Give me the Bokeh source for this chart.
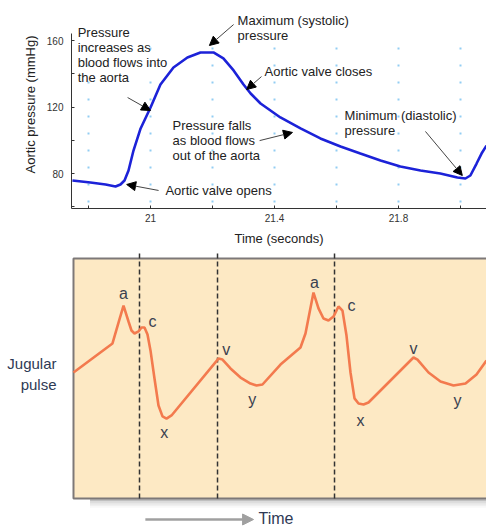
from bokeh.plotting import figure
from bokeh.layouts import column
from bokeh.models import (Range1d, FixedTicker, Label, Arrow, NormalHead)
from bokeh.core.properties import value
from bokeh.embed import file_html
from bokeh.resources import INLINE

# ---------------- data: aortic pressure ----------------
aortic_time = [20.748, 20.806, 20.855, 20.887, 20.903, 20.916, 20.929, 20.945, 20.968, 21.000,
               21.032, 21.074, 21.119, 21.161, 21.203, 21.235, 21.268, 21.300, 21.323, 21.355,
               21.419, 21.484, 21.548, 21.613, 21.677, 21.742, 21.806, 21.871, 21.935, 21.990,
               22.016, 22.032, 22.052, 22.068, 22.084]
aortic_pressure = [75.8, 74.6, 73.4, 72.2, 73.4, 75.8, 81.8, 93.8, 107.1, 119.7,
                   133.5, 143.8, 149.8, 152.8, 152.8, 149.2, 142.0, 133.5, 128.1, 122.1,
                   113.7, 107.1, 101.1, 96.2, 92.0, 87.8, 84.2, 81.8, 80.0, 77.6,
                   77.0, 78.8, 86.0, 92.0, 96.8]
x_tick_values = [21, 21.4, 21.8]
x_tick_labels = ["21", "21.4", "21.8"]
x_minor_ticks = [20.8, 21.2, 21.6, 22.0]
y_tick_values = [80, 120, 160]
y_minor_ticks = [60, 100, 140]
x_grid_values = [20.8, 21.0, 21.2, 21.4, 21.6, 21.8, 22.0]

# ---------------- data: jugular pulse (arbitrary units) ----------------
jug_time = [0.00, 9.44, 10.90, 12.11, 13.32, 14.04, 14.77, 15.74, 16.46, 17.19, 17.92, 18.64,
            19.61, 20.58, 21.55, 22.52, 23.73, 35.11, 36.08, 38.01, 40.44, 42.86, 44.31, 45.76,
            50.12, 54.96, 56.17, 58.11, 59.32, 60.53, 61.74, 62.95, 64.16, 65.13, 66.10, 67.07,
            68.04, 69.01, 70.22, 71.43, 82.32, 83.29, 85.96, 88.86, 92.01, 94.92, 97.58, 100.0]
jug_amp = [52.5, 64.6, 73.3, 80.4, 73.75, 70.0, 68.75, 69.6, 71.25, 71.25, 68.3, 61.7,
           50.0, 38.75, 34.2, 33.3, 34.6, 58.3, 57.9, 54.2, 50.4, 47.9, 47.1, 47.5,
           55.8, 62.9, 68.75, 85.8, 79.2, 75.0, 74.2, 75.8, 80.0, 78.3, 67.9, 52.5,
           41.7, 39.6, 39.2, 40.0, 58.75, 57.9, 52.5, 48.75, 47.1, 47.9, 51.7, 57.5]
wave_names = ["a", "c", "x", "v", "y", "a", "c", "x", "v", "y"]
wave_time = [12.1, 19.1, 22.0, 37.0, 43.3, 58.35, 67.3, 69.5, 82.3, 93.0]
wave_amp = [85.4, 73.75, 27.5, 62.1, 41.25, 90.0, 80.4, 32.5, 62.5, 40.8]
dashed_times = [15.98, 34.87, 63.2]
jug_label_values = [56.25, 47.5]
jug_label_texts = ["Jugular", "pulse"]

FONT = "Liberation Sans"
Y_TOP_AXIS = 164.2   # top end of the aortic y axis

# ================= top figure =================
p1 = figure(width=486, height=248, x_range=Range1d(20.745, 22.084), y_range=Range1d(58.95, 184.06),
            output_backend="svg", toolbar_location=None,
            min_border_left=71, min_border_right=0, min_border_top=0, min_border_bottom=40)
p1.outline_line_color = None
p1.background_fill_color = "white"
p1.border_fill_color = "white"

p1.xaxis.ticker = FixedTicker(ticks=x_tick_values, minor_ticks=x_minor_ticks)
p1.xaxis.major_label_overrides = {v: l for v, l in zip(x_tick_values, x_tick_labels)}
p1.yaxis.ticker = FixedTicker(ticks=y_tick_values, minor_ticks=y_minor_ticks)
p1.yaxis.bounds = (58.95, Y_TOP_AXIS)
for ax in (p1.xaxis[0], p1.yaxis[0]):
    ax.major_tick_in = 3
    ax.major_tick_out = 0
    ax.minor_tick_in = 3
    ax.minor_tick_out = 0
    ax.axis_line_color = "#333333"
    ax.major_tick_line_color = "#333333"
    ax.minor_tick_line_color = "#333333"
    ax.major_label_text_font = FONT
    ax.major_label_text_font_size = "10px"
    ax.major_label_text_color = "#333333"
    ax.axis_label_text_font = FONT
    ax.axis_label_text_font_size = "13px"
    ax.axis_label_text_font_style = "normal"
    ax.axis_label_text_color = "#222222"
p1.xaxis.axis_label = "Time (seconds)"
p1.yaxis.axis_label = "Aortic pressure (mmHg)"
p1.xaxis.major_label_standoff = 5
p1.xaxis.axis_label_standoff = 6
p1.yaxis.major_label_standoff = 8
p1.yaxis.axis_label_standoff = 6

p1.xgrid.ticker = FixedTicker(ticks=x_grid_values)
p1.xgrid.grid_line_color = "#92cdf3"
p1.xgrid.grid_line_dash = "2 15"
p1.xgrid.grid_line_dash_offset = 11
p1.xgrid.grid_line_width = 2
p1.ygrid.visible = False

# blank the area above the axes box (grid must not show there)
p1.quad(left=20.745, right=22.084, bottom=Y_TOP_AXIS, top=184.06, fill_color="white", line_color=None)

p1.line(aortic_time, aortic_pressure, line_color="#1c22d8", line_width=2.6)

def add_text(p, x, y, lines, dy, size="13px", color="#222222", align="left"):
    for i, t in enumerate(lines):
        p.add_layout(Label(x=x, y=y - i * dy, text=t, text_font=FONT, text_font_size=size,
                           text_color=color, text_align=align, text_baseline="middle"))

def add_arrow(p, xs, ys, xe, ye):
    p.add_layout(Arrow(end=NormalHead(size=9, fill_color="black", line_color="black"),
                       x_start=xs, y_start=ys, x_end=xe, y_end=ye,
                       line_color="#444444", line_width=1))

DY = 9.0  # line spacing in mmHg (~15 px)
add_text(p1, 20.765, 164.8, ["Pressure", "increases as", "blood flows into", "the aorta"], DY)
add_arrow(p1, 20.926, 125.7, 21.0, 117.9)
add_text(p1, 21.281, 172.0, ["Maximum (systolic)", "pressure"], DY)
add_arrow(p1, 21.268, 169.6, 21.190, 157.0)
add_text(p1, 21.368, 141.4, ["Aortic valve closes"], DY)
add_arrow(p1, 21.358, 138.3, 21.310, 130.5)
add_text(p1, 21.071, 108.9, ["Pressure falls", "as blood flows", "out of the aorta"], DY)
add_arrow(p1, 21.352, 99.8, 21.458, 104.7)
add_text(p1, 21.626, 114.9, ["Minimum (diastolic)", "pressure"], DY)
add_arrow(p1, 21.887, 105.3, 22.006, 78.8)
add_text(p1, 21.048, 69.8, ["Aortic valve opens"], DY)
add_arrow(p1, 21.026, 69.8, 20.923, 73.4)

# ================= bottom figure =================
p2 = figure(width=486, height=278, x_range=Range1d(-0.484, 100), y_range=Range1d(-11.67, 104.17),
            output_backend="svg", toolbar_location=None,
            min_border_left=71, min_border_right=0, min_border_top=0, min_border_bottom=0,
            x_axis_location=None, y_axis_location="left")
p2.outline_line_color = None
p2.grid.visible = False
p2.background_fill_color = "white"
p2.border_fill_color = "white"

yax = p2.yaxis[0]
yax.ticker = FixedTicker(ticks=jug_label_values)
yax.major_label_overrides = {v: t for v, t in zip(jug_label_values, jug_label_texts)}
yax.axis_line_color = None
yax.major_tick_line_color = None
yax.minor_tick_line_color = None
yax.major_label_standoff = 9
yax.major_label_text_font = FONT
yax.major_label_text_font_size = "15px"
yax.major_label_text_color = "#2e3a55"

# shadow under panel
for k, al in enumerate([0.45, 0.3, 0.2, 0.12, 0.06]):
    p2.line([4, 102], [-0.6 - k * 0.7, -0.6 - k * 0.7], line_color="#888888", line_alpha=al, line_width=2)

p2.quad(left=0, right=102, bottom=0, top=100, fill_color="#FDE9C4", line_color=None)
p2.line([102, 0, 0, 102], [100, 100, 0, 0], line_color="#7d7878", line_width=2)

p2.segment(x0=dashed_times, y0=[0] * len(dashed_times), x1=dashed_times, y1=[102.5] * len(dashed_times),
           line_color="#333333", line_width=1.5, line_dash="5 3")

p2.line(jug_time, jug_amp, line_color="#F37A4E", line_width=2.6)

p2.text(x=wave_time, y=wave_amp, text=wave_names, text_font_size="16px",
        text_color="#3a4150", text_align="center", text_baseline="middle",
        text_font=value(FONT))

p2.add_layout(Arrow(end=NormalHead(size=11, fill_color="#a0a0a0", line_color="#a0a0a0"),
                    x_start=17.4, y_start=-8.75, x_end=43.6, y_end=-8.75,
                    line_color="#a0a0a0", line_width=2.5))
add_text(p2, 44.8, -8.33, ["Time"], 0, size="16px", color="#2e3a55")

layout = column(p1, p2, spacing=0)
html = file_html(layout, INLINE)
html = html.replace("<head>", "<head><style>html,body{overflow:hidden;}</style>", 1)
open("out.html", "w").write(html)
